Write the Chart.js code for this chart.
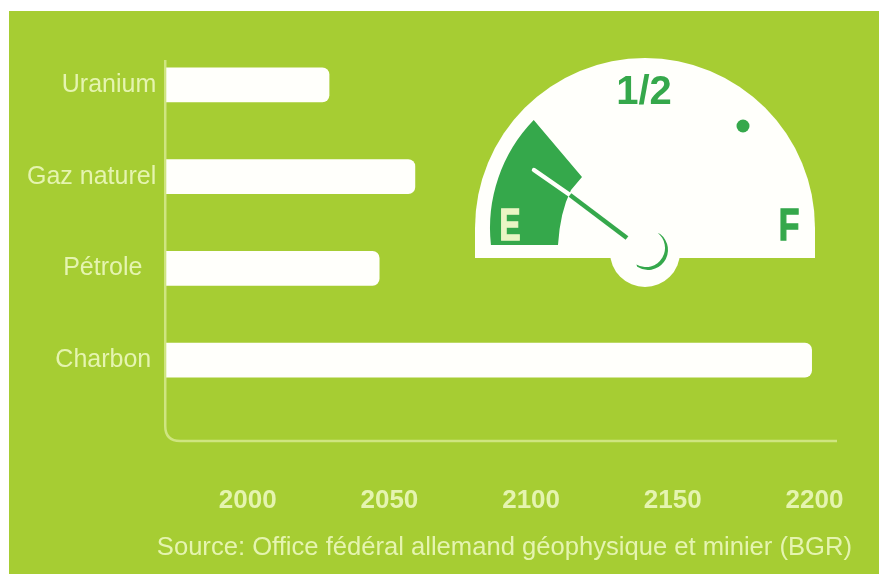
<!DOCTYPE html>
<html>
<head>
<meta charset="utf-8">
<title>Réserves d'énergie</title>
<script src="https://cdn.jsdelivr.net/npm/chart.js@4"></script>
<style>
html, body { margin: 0; padding: 0; background: #fff; overflow: hidden; }
canvas { display: block; filter: blur(0.7px); }
</style>
</head>
<body>
<canvas id="reservesChart" width="879" height="574"></canvas>
<script>
// values (year the resource runs out)
const categories = ['Uranium', 'Gaz naturel', 'Pétrole', 'Charbon'];
const depletionYears = [2028.7, 2059, 2046.4, 2199];
const tickYears = [2000, 2050, 2100, 2150, 2200];
const sourceText = 'Source: Office fédéral allemand géophysique et minier (BGR)';

const GREEN_BG = '#a6cd33';
const GREEN_DARK = '#35a84b';
const TEXT_LIGHT = '#e5f4b0';
const FONT = '"Liberation Sans", Arial, sans-serif';

// green panel behind everything
const panelPlugin = {
    id: 'panel',
    beforeDraw(chart) {
        const c = chart.ctx;
        c.save();
        c.fillStyle = '#fff';
        c.fillRect(0, 0, 879, 574);
        c.fillStyle = GREEN_BG;
        c.fillRect(9, 11, 870, 563);
        // axis line with the rounded corner, sits below the category band
        c.strokeStyle = '#cfe580';
        c.lineWidth = 2.5;
        c.beginPath();
        c.moveTo(chart.chartArea.left - 1, 60);
        c.lineTo(chart.chartArea.left - 1, 426);
        c.quadraticCurveTo(chart.chartArea.left - 1, 441, chart.chartArea.left + 14, 441);
        c.lineTo(chart.chartArea.right, 441);
        c.stroke();
        c.restore();
    }
};

// fuel gauge + source line
const gaugePlugin = {
    id: 'gauge',
    afterDraw(chart) {
        const c = chart.ctx;
        const cx = 645, cy = 228, r = 170;
        c.save();

        // white dial
        c.fillStyle = '#fffffb';
        c.beginPath();
        c.arc(cx, cy, r, Math.PI, 0);
        c.lineTo(cx + r, 258);
        c.lineTo(cx - r, 258);
        c.closePath();
        c.fill();
        c.beginPath();
        c.arc(cx, 252, 35, 0, Math.PI * 2);
        c.fill();

        // green "empty" sector
        c.fillStyle = GREEN_DARK;
        c.beginPath();
        c.moveTo(491, 245);
        c.arc(cx, cy, 155, Math.PI - 0.11, Math.PI + 0.77);
        c.lineTo(582, 177);
        c.lineTo(571, 190);
        c.quadraticCurveTo(560, 212, 558, 245);
        c.closePath();
        c.fill();

        // needle
        c.lineWidth = 4.5;
        c.lineCap = 'round';
        c.strokeStyle = '#fffffb';
        c.beginPath();
        c.moveTo(534, 170);
        c.lineTo(570, 195);
        c.stroke();
        c.strokeStyle = GREEN_DARK;
        c.lineCap = 'butt';
        c.beginPath();
        c.moveTo(570, 195);
        c.lineTo(627, 238);
        c.stroke();

        // hub crescent
        c.fillStyle = GREEN_DARK;
        c.beginPath();
        c.arc(648, 250, 20, -0.92, 2.14);
        c.arc(646, 248, 19, 2.1, -0.9, true);
        c.closePath();
        c.fill();

        // dot
        c.beginPath();
        c.arc(743, 126, 6.5, 0, Math.PI * 2);
        c.fill();

        // dial letters, narrower than the plain font
        c.textAlign = 'center';
        c.textBaseline = 'alphabetic';
        c.font = 'bold 40px ' + FONT;
        c.fillText('1/2', 644, 104);
        c.font = 'bold 45px ' + FONT;
        c.lineWidth = 1.5;
        c.save();
        c.translate(789, 240);
        c.scale(0.75, 1);
        c.strokeStyle = GREEN_DARK;
        c.fillText('F', 0, 0);
        c.strokeText('F', 0, 0);
        c.restore();
        c.fillStyle = '#eaf5c4';
        c.save();
        c.translate(510, 240);
        c.scale(0.7, 1);
        c.strokeStyle = '#eaf5c4';
        c.fillText('E', 0, 0);
        c.strokeText('E', 0, 0);
        c.restore();

        // source
        c.fillStyle = TEXT_LIGHT;
        c.font = '25.6px ' + FONT;
        c.textAlign = 'right';
        c.fillText(sourceText, 852, 555);
        c.restore();
    }
};

new Chart(document.getElementById('reservesChart').getContext('2d'), {
    type: 'bar',
    data: {
        labels: categories,
        datasets: [{
            data: depletionYears,
            backgroundColor: '#fffffb',
            borderRadius: { topRight: 7, bottomRight: 7 },
            borderSkipped: false,
            barThickness: 34
        }]
    },
    options: {
        indexAxis: 'y',
        responsive: false,
        animation: false,
        layout: { autoPadding: false, padding: { top: 39, right: 42, left: 17, bottom: 0 } },
        plugins: { legend: { display: false }, tooltip: { enabled: false } },
        scales: {
            x: {
                min: 1971.25,
                max: 2207.95,
                afterBuildTicks(scale) {
                    scale.ticks = tickYears.map(v => ({ value: v }));
                },
                afterFit(scale) { scale.height = 168; },
                // big tick padding would eat the plot width, so use an invisible long tick
                grid: { drawOnChartArea: false, tickLength: 79, tickColor: 'transparent' },
                border: { display: false },
                ticks: {
                    autoSkip: false,
                    maxRotation: 0,
                    padding: 0,
                    color: TEXT_LIGHT,
                    font: { family: FONT, size: 26, weight: 'bold' },
                    callback: v => String(v)
                }
            },
            y: {
                grid: { display: false, drawTicks: false },
                border: { display: false },
                ticks: {
                    padding: 10,
                    color: TEXT_LIGHT,
                    font: { family: FONT, size: 25 },
                    // the labels are not quite flush right in the original
                    callback(v, i) {
                        const gap = i === 2 ? '\u00a0\u00a0' : i === 3 ? '\u2009' : '';
                        return categories[i] + gap;
                    }
                }
            }
        }
    },
    plugins: [panelPlugin, gaugePlugin]
});
</script>
</body>
</html>
